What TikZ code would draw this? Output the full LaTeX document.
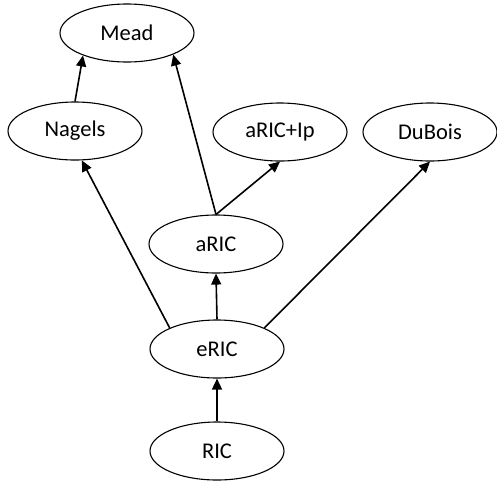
\documentclass[tikz,border=0pt]{standalone}
\usepackage{fontspec}
\setmainfont{Carlito}
\usetikzlibrary{shapes.geometric,arrows.meta}
\begin{document}
\begin{tikzpicture}[x=1pt,y=-1pt,
  ell/.style={ellipse,draw,line width=1.1pt,minimum width=134pt,minimum height=58pt,inner sep=0pt,font=\fontsize{22.5}{26}\selectfont},
  arr/.style={line width=1.6pt,-{Triangle[length=11pt,width=10pt]}}]
\useasboundingbox (0,0) rectangle (497,483);
\node[ell] (Mead) at (127,33) {Mead};
\node[ell] (Nagels) at (75,131) {Nagels};
\node[ell] (aRICIp) at (280,132) {aRIC+Ip};
\node[ell] (DuBois) at (430,132) {DuBois};
\node[ell] (aRIC) at (216,244) {aRIC};
\node[ell] (eRIC) at (217,349) {eRIC};
\node[ell] (RIC) at (217,451) {RIC};
\draw[arr] (Nagels.north) -- (Mead.207);
\draw[arr] (aRIC.north) -- (Mead.335);
\draw[arr] (aRIC.north) -- (aRICIp.south);
\draw[arr] (eRIC.156) -- (Nagels.283);
\draw[arr] (eRIC.24) -- (DuBois.south);
\draw[arr] (eRIC.north) -- (aRIC.south);
\draw[arr] (RIC.north) -- (eRIC.south);
\end{tikzpicture}
\end{document}
